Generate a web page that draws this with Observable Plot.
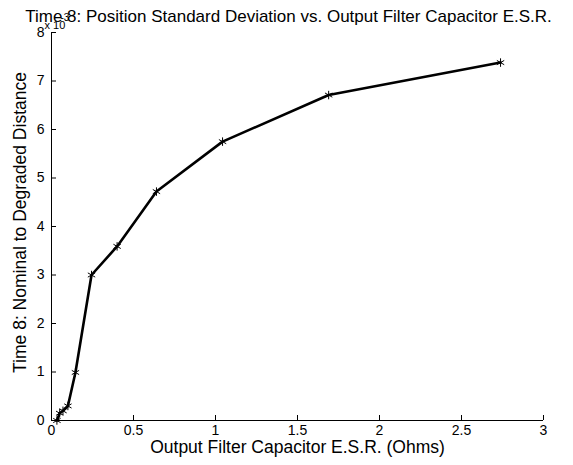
<!DOCTYPE html>
<html>
<head>
<meta charset="utf-8">
<script src="https://cdn.jsdelivr.net/npm/d3@7"></script>
<script src="https://cdn.jsdelivr.net/npm/@observablehq/plot@0.6"></script>
<style>
  html, body { margin: 0; padding: 0; background: #fff; }
  svg { display: block; }
</style>
</head>
<body>
<div id="chart"></div>
<script>
const esr = [0.033, 0.05, 0.07, 0.1, 0.146, 0.244, 0.40, 0.64, 1.043, 1.69, 2.738];
const stdev = [0, 0.15, 0.2, 0.3, 0.99, 3.0, 3.59, 4.72, 5.75, 6.71, 7.38];
const xTicks = [0, 0.5, 1, 1.5, 2, 2.5, 3];
const yTicks = [0, 1, 2, 3, 4, 5, 6, 7, 8];
const titleText = "Time 8: Position Standard Deviation vs. Output Filter Capacitor E.S.R.";
const xLabel = "Output Filter Capacitor E.S.R. (Ohms)";
const yLabel = "Time 8: Nominal to Degraded Distance";
const exponentBase = "x 10";
const exponentPower = "-3";

const data = esr.map((x, i) => ({x, y: stdev[i]}));
const font = "'Liberation Sans', Arial, sans-serif";

const plot = Plot.plot({
  width: 573,
  height: 465,
  marginLeft: 51,
  marginRight: 30,
  marginTop: 32,
  marginBottom: 45,
  style: {fontFamily: font, fontSize: "14px", color: "#000", background: "#fff"},
  x: {domain: [0, 3]},
  y: {domain: [0, 8]},
  marks: [
    Plot.axisX({ticks: xTicks, tickSize: -5, tickPadding: 10, tickFormat: d => String(d), label: null, fontSize: 14, stroke: "#000"}),
    Plot.axisY({ticks: yTicks, tickSize: -5, tickPadding: 12, tickFormat: d => String(d), label: null, fontSize: 14, stroke: "#000"}),
    Plot.ruleX([0], {stroke: "#000", strokeWidth: 1}),
    Plot.ruleY([0], {stroke: "#000", strokeWidth: 1}),
    Plot.line(data, {x: "x", y: "y", stroke: "#000", strokeWidth: 2.6}),
    Plot.dot(data, {x: "x", y: "y", symbol: "asterisk", r: 4, stroke: "#000", strokeWidth: 1}),
    Plot.text([titleText], {frameAnchor: "top", dx: -9, dy: -23, fontSize: 17, fill: "#000", textAnchor: "middle"}),
    Plot.text([exponentBase], {frameAnchor: "top-left", dx: -7, dy: -11, fontSize: 11, fill: "#000", textAnchor: "start"}),
    Plot.text([exponentPower], {frameAnchor: "top-left", dx: 9, dy: -19, fontSize: 10, fill: "#000", textAnchor: "start"}),
    Plot.text([xLabel], {frameAnchor: "bottom", dy: 32, fontSize: 17.5, fill: "#000", textAnchor: "middle"}),
    Plot.text([yLabel], {frameAnchor: "left", dx: -31, dy: -4, rotate: -90, fontSize: 17.5, fill: "#000", textAnchor: "middle"})
  ]
});
document.getElementById("chart").appendChild(plot);
</script>
</body>
</html>
